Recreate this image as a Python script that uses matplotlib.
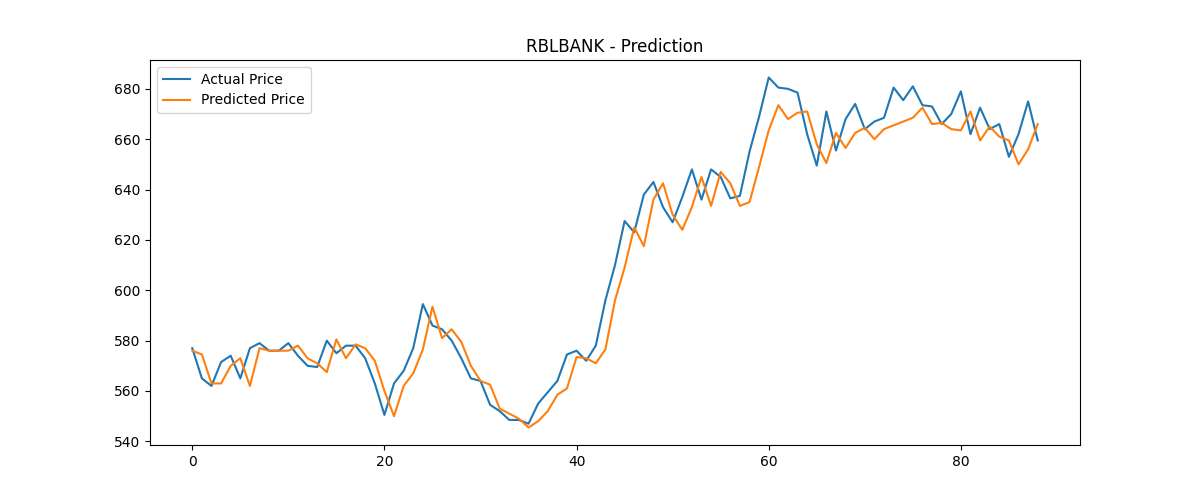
import matplotlib
matplotlib.use("Agg")
import matplotlib.pyplot as plt

actual = [577,565,562,571.5,574,565,577,579,576,576,579,574,570,569.5,580,575,578,578,573,563,
          550.5,563,568,577,594.5,586,584.5,580,573,565,564,554.5,552,548.5,548.5,547,555,559.5,564,574.5,
          576,572,578,596,610,627.5,623,638,643,633,627,637,648,636,648,645,636.5,637.5,655,669,
          684.5,680.5,680,678.5,662,649.5,671,655.5,668,674,664,667,668.5,680.5,675.5,681,673.5,673,666,670,
          679,662,672.5,664,666,653,662,675,659.5]
predicted = [576,574.5,563,563,570,573,562,577,576,576,576,578,573,571,567.5,580.5,573,578.5,577,572,
             560,550,562,567,576.5,593.5,581,584.5,579.5,570,564,562.5,553,551,549,545.5,548,552,558.5,561,
             573.5,573,571,576.5,596,609,625,617.5,636,642.5,630,624,633,645,633.5,647,642.5,633.5,635,649,
             663.5,673.5,668,670.5,671,658,650.5,662.5,656.5,662.5,664.5,660,664,665.5,667,668.5,672.5,666,666.5,664,
             663.5,671,659.5,665,661,659.5,650,656,666]

fig, ax = plt.subplots(figsize=(12, 5), dpi=100)
ax.plot(range(len(actual)), actual, label="Actual Price")
ax.plot(range(len(predicted)), predicted, label="Predicted Price")
ax.set_title("RBLBANK - Prediction")
ax.legend(loc="upper left")
fig.savefig("out.png")
